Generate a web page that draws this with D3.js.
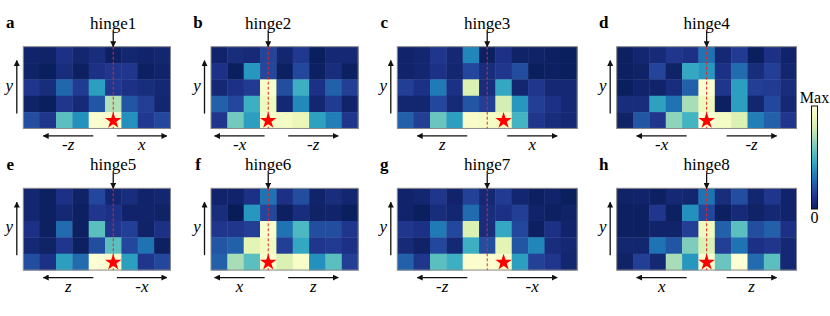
<!DOCTYPE html>
<html>
<head>
<meta charset="utf-8">
<script src="https://cdn.jsdelivr.net/npm/d3@7"></script>
<style>
  body { margin: 0; background: #fff; }
</style>
</head>
<body>
<script>
// panel letters, hinge names and arrow labels
var panelLetters = ['a', 'b', 'c', 'd', 'e', 'f', 'g', 'h'];
var hingeNames = ['hinge1', 'hinge2', 'hinge3', 'hinge4', 'hinge5', 'hinge6', 'hinge7', 'hinge8'];
var leftLabels = ['-z', '-x', 'z', '-x', 'z', 'x', '-z', 'x'];
var rightLabels = ['x', '-z', 'x', '-z', '-x', 'z', '-x', 'z'];
var hingeCols = [5, 3, 5, 5, 5, 3, 5, 5];   // column of the hinge line
var starCols = [5, 3, 6, 5, 5, 3, 6, 5];    // column of the star (bottom row)

// normalised heat values (0 .. Max = 1), top row first
var heatA = [
  [0.04, 0.03, 0.10, 0.05, 0.08, 0.02, 0.05, 0.04, 0.05],
  [0.03, 0.01, 0.08, 0.02, 0.10, 0.12, 0.12, 0.02, 0.04],
  [0.12, 0.08, 0.27, 0.14, 0.42, 0.13, 0.10, 0.08, 0.06],
  [0.03, 0.01, 0.12, 0.07, 0.22, 0.72, 0.22, 0.15, 0.05],
  [0.20, 0.12, 0.55, 0.38, 0.97, 0.96, 0.38, 0.13, 0.18]
];
var heatB = [
  [0.04, 0.08, 0.07, 0.17, 0.05, 0.13, 0.01, 0.06, 0.06],
  [0.10, 0.01, 0.40, 0.18, 0.02, 0.18, 0.02, 0.08, 0.02],
  [0.06, 0.10, 0.14, 0.95, 0.20, 0.48, 0.10, 0.25, 0.15],
  [0.25, 0.18, 0.48, 0.90, 0.06, 0.36, 0.05, 0.14, 0.04],
  [0.12, 0.60, 0.42, 0.95, 0.93, 0.88, 0.43, 0.33, 0.12]
];
var heatC = [
  [0.04, 0.05, 0.12, 0.06, 0.35, 0.02, 0.10, 0.03, 0.03, 0.02, 0.01],
  [0.04, 0.05, 0.10, 0.05, 0.18, 0.08, 0.12, 0.20, 0.01, 0.02, 0.01],
  [0.15, 0.10, 0.32, 0.10, 0.82, 0.08, 0.45, 0.05, 0.12, 0.06, 0.06],
  [0.05, 0.05, 0.18, 0.07, 0.22, 0.15, 0.80, 0.40, 0.15, 0.10, 0.06],
  [0.25, 0.15, 0.58, 0.42, 0.95, 0.93, 0.92, 0.50, 0.12, 0.08, 0.06]
];
var heatD = [
  [0.02, 0.05, 0.07, 0.12, 0.10, 0.30, 0.06, 0.14, 0.01, 0.10, 0.04],
  [0.02, 0.03, 0.17, 0.03, 0.45, 0.40, 0.10, 0.28, 0.08, 0.15, 0.05],
  [0.01, 0.04, 0.04, 0.08, 0.25, 0.97, 0.12, 0.42, 0.15, 0.14, 0.08],
  [0.08, 0.08, 0.43, 0.30, 0.70, 0.90, 0.02, 0.42, 0.05, 0.18, 0.06],
  [0.03, 0.22, 0.12, 0.65, 0.50, 0.98, 0.93, 0.82, 0.33, 0.25, 0.12]
];
var heatE = [
  [0.05, 0.02, 0.10, 0.03, 0.18, 0.05, 0.08, 0.04, 0.05],
  [0.05, 0.02, 0.06, 0.02, 0.12, 0.10, 0.04, 0.04, 0.03],
  [0.10, 0.02, 0.28, 0.02, 0.55, 0.12, 0.15, 0.03, 0.10],
  [0.06, 0.03, 0.12, 0.02, 0.20, 0.55, 0.18, 0.30, 0.02],
  [0.20, 0.10, 0.42, 0.28, 0.98, 0.97, 0.42, 0.12, 0.18]
];
var heatF = [
  [0.04, 0.04, 0.10, 0.30, 0.10, 0.20, 0.04, 0.08, 0.05],
  [0.08, 0.00, 0.40, 0.18, 0.02, 0.08, 0.03, 0.04, 0.01],
  [0.12, 0.12, 0.15, 0.96, 0.30, 0.52, 0.20, 0.20, 0.12],
  [0.22, 0.25, 0.85, 0.92, 0.15, 0.45, 0.12, 0.14, 0.10],
  [0.25, 0.70, 0.55, 0.96, 0.82, 0.95, 0.38, 0.55, 0.15]
];
var heatG = [
  [0.04, 0.05, 0.12, 0.04, 0.16, 0.06, 0.14, 0.05, 0.02, 0.04, 0.01],
  [0.04, 0.01, 0.08, 0.05, 0.28, 0.08, 0.10, 0.15, 0.04, 0.02, 0.03],
  [0.12, 0.10, 0.32, 0.18, 0.82, 0.08, 0.45, 0.18, 0.02, 0.10, 0.04],
  [0.07, 0.03, 0.18, 0.06, 0.48, 0.20, 0.85, 0.22, 0.35, 0.08, 0.06],
  [0.25, 0.12, 0.55, 0.48, 0.97, 0.97, 0.96, 0.42, 0.16, 0.12, 0.05]
];
var heatH = [
  [0.03, 0.04, 0.02, 0.06, 0.05, 0.30, 0.08, 0.20, 0.05, 0.12, 0.04],
  [0.02, 0.02, 0.12, 0.02, 0.38, 0.18, 0.02, 0.07, 0.03, 0.06, 0.04],
  [0.02, 0.02, 0.04, 0.04, 0.15, 0.90, 0.25, 0.55, 0.20, 0.25, 0.10],
  [0.05, 0.05, 0.30, 0.22, 0.62, 0.82, 0.15, 0.30, 0.10, 0.12, 0.06],
  [0.03, 0.15, 0.06, 0.70, 0.40, 0.97, 0.58, 0.98, 0.28, 0.55, 0.06]
];
var heats = [heatA, heatB, heatC, heatD, heatE, heatF, heatG, heatH];

// layout
var width = 830, height = 316;
var cell = 16.35;
var panelLeft = [23.3, 211, 397.3, 616.7];
var panelTop = [46.7, 188.3];

var color = d3.scaleSequential(function(t) { return d3.interpolateYlGnBu(1 - t); })
    .domain([0, 1]);

var svg = d3.select('body')
  .append('svg')
    .attr('width', width)
    .attr('height', height);

var defs = svg.append('defs');
defs.append('marker')
    .attr('id', 'head')
    .attr('viewBox', '0 0 10 10')
    .attr('refX', 9)
    .attr('refY', 5)
    .attr('markerWidth', 6)
    .attr('markerHeight', 6)
    .attr('markerUnits', 'userSpaceOnUse')
    .attr('orient', 'auto')
  .append('path')
    .attr('d', 'M0,0L10,5L0,10z')
    .attr('fill', '#111');

function arrow(g, x1, y1, x2, y2) {
  g.append('line')
      .attr('x1', x1).attr('y1', y1)
      .attr('x2', x2).attr('y2', y2)
      .attr('stroke', '#111')
      .attr('stroke-width', 1.3)
      .attr('marker-end', 'url(#head)');
}

function label(g, x, y, txt, italic) {
  return g.append('text')
      .attr('x', x).attr('y', y)
      .attr('text-anchor', 'middle')
      .style('font-family', 'Liberation Serif')
      .style('font-size', '17px')
      .style('font-style', italic ? 'italic' : 'normal')
      .text(txt);
}

heats.forEach(function(data, i) {
  var nCols = data[0].length, nRows = data.length;
  var x0 = panelLeft[i % 4], y0 = panelTop[Math.floor(i / 4)];
  var g = svg.append('g').attr('transform', 'translate(' + x0 + ',' + y0 + ')');

  var x = d3.scaleBand().domain(d3.range(nCols)).range([0, nCols * cell]);
  var y = d3.scaleBand().domain(d3.range(nRows)).range([0, nRows * cell]);
  var w = nCols * cell, h = nRows * cell;

  // cells
  data.forEach(function(row, r) {
    g.selectAll(null)
      .data(row)
      .enter().append('rect')
        .attr('x', function(d, c) { return x(c); })
        .attr('y', y(r))
        .attr('width', x.bandwidth() + 0.4)
        .attr('height', y.bandwidth() + 0.4)
        .attr('fill', function(d) { return color(d); });
  });

  g.append('rect')
      .attr('width', w).attr('height', h)
      .attr('fill', 'none')
      .attr('stroke', '#8a8a8a')
      .attr('stroke-width', 1);

  var hx = x(hingeCols[i]) + x.bandwidth() / 2;
  var sx = x(starCols[i]) + x.bandwidth() / 2;
  var sy = y(nRows - 1) + y.bandwidth() / 2;

  // hinge dashed line
  g.append('line')
      .attr('x1', hx).attr('x2', hx)
      .attr('y1', 0).attr('y2', h)
      .attr('stroke', '#e3262b')
      .attr('stroke-width', 1)
      .attr('stroke-dasharray', '3,2');

  // star
  g.append('path')
      .attr('d', d3.symbol().type(d3.symbolStar).size(85)())
      .attr('transform', 'translate(' + sx + ',' + (sy + 0.5) + ')')
      .attr('fill', '#ff0000');

  // hinge label and arrow
  label(g, hx, -18, hingeNames[i], false);
  arrow(g, hx, -15, hx, 0);

  // panel letter
  label(g, -13, -18.5, panelLetters[i], false).style('font-weight', 'bold');

  // y arrow
  arrow(g, -6.5, h / 2 + 26, -6.5, h / 2 - 27);
  label(g, -14, h / 2 + 3, 'y', true);

  // bottom arrows, centred in each half around the hinge
  var lc = hx / 2, rc = (hx + w) / 2, ay = h + 7.5;
  arrow(g, lc + 25, ay, lc - 25, ay);
  arrow(g, rc - 25, ay, rc + 25, ay);
  label(g, lc, ay + 14, leftLabels[i], true);
  label(g, rc, ay + 14, rightLabels[i], true);
});

// colour bar
var grad = defs.append('linearGradient')
    .attr('id', 'cbar')
    .attr('x1', 0).attr('y1', 1).attr('x2', 0).attr('y2', 0);
d3.range(0, 1.0001, 0.1).forEach(function(t) {
  grad.append('stop')
      .attr('offset', t)
      .attr('stop-color', color(t));
});

var cb = d3.scaleLinear().domain([0, 1]).range([209, 106]);
svg.append('rect')
    .attr('x', 811.5).attr('y', cb(1))
    .attr('width', 6).attr('height', cb(0) - cb(1))
    .attr('fill', 'url(#cbar)')
    .attr('stroke', '#111')
    .attr('stroke-width', 1);
label(svg, 814.5, cb(1) - 3, 'Max', false).style('font-size', '16px');
label(svg, 814.5, cb(0) + 14, '0', false).style('font-size', '16px');
</script>
</body>
</html>
